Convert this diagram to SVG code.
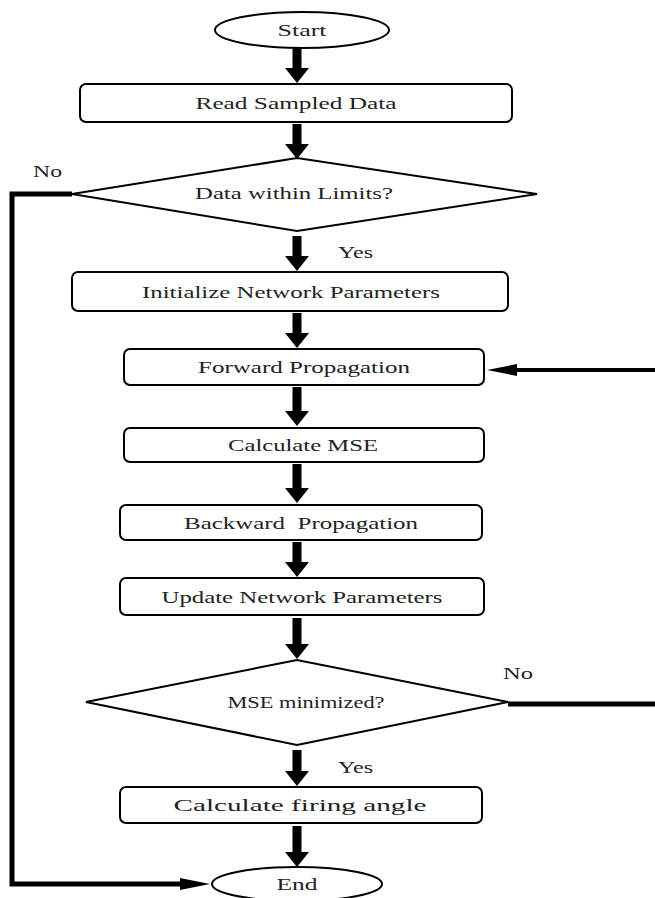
<svg xmlns="http://www.w3.org/2000/svg" width="655" height="898" viewBox="0 0 655 898">
<style>
.box{fill:#fff;stroke:#000;stroke-width:2}
.t{font-family:"Liberation Serif","Times New Roman",serif;font-size:17px;fill:#222;text-anchor:middle;white-space:pre}
.lbl{font-family:"Liberation Serif","Times New Roman",serif;font-size:17px;fill:#222}
.fat{stroke:#000;stroke-width:9;fill:none}
.loop{stroke:#000;stroke-width:5;fill:none}
</style>
<defs>
<marker id="big" markerUnits="userSpaceOnUse" markerWidth="26" markerHeight="16" refX="0" refY="12" viewBox="0 0 26 16" orient="auto" overflow="visible">
<path d="M0,0 L0,24 L15,12 Z" fill="#000"/>
</marker>
<marker id="thin" markerUnits="userSpaceOnUse" markerWidth="32" markerHeight="12" refX="0" refY="6" viewBox="0 0 32 12" orient="auto" overflow="visible">
<path d="M0,0 L30,6 L0,12 Z" fill="#000"/>
</marker>
</defs>

<g id="connectors">
<path class="fat" d="M297,48 V68" marker-end="url(#big)"/>
<path class="fat" d="M297,124 V144" marker-end="url(#big)"/>
<path class="fat" d="M297,236 V256" marker-end="url(#big)"/>
<path class="fat" d="M297,313 V333" marker-end="url(#big)"/>
<path class="fat" d="M297,387 V411" marker-end="url(#big)"/>
<path class="fat" d="M297,464 V488" marker-end="url(#big)"/>
<path class="fat" d="M297,542 V562" marker-end="url(#big)"/>
<path class="fat" d="M297,618 V644" marker-end="url(#big)"/>
<path class="fat" d="M297,750 V771" marker-end="url(#big)"/>
<path class="fat" d="M297,826 V852" marker-end="url(#big)"/>
<path class="loop" d="M72,194 H12 V884 H180" marker-end="url(#thin)"/>
<path class="loop" d="M508,704 H655"/>
<path d="M655,370 H517" stroke="#000" stroke-width="4" fill="none" marker-end="url(#thin)"/>
<text class="lbl" x="33" y="177" textLength="29" lengthAdjust="spacingAndGlyphs">No</text>
<text class="lbl" x="338" y="258" textLength="35" lengthAdjust="spacingAndGlyphs">Yes</text>
<text class="lbl" x="503" y="679" textLength="30" lengthAdjust="spacingAndGlyphs">No</text>
<text class="lbl" x="338" y="773" textLength="35" lengthAdjust="spacingAndGlyphs">Yes</text>
</g>

<g id="start">
<ellipse class="box" cx="302" cy="30" rx="87" ry="18"/>
<text class="t" x="302" y="36" textLength="49" lengthAdjust="spacingAndGlyphs">Start</text>
</g>
<g id="read">
<rect class="box" x="80" y="84" width="432" height="38" rx="6"/>
<text class="t" x="296" y="109" textLength="201" lengthAdjust="spacingAndGlyphs">Read Sampled Data</text>
</g>
<g id="check1">
<polygon class="box" points="72,194 297,158 537,194 297,231"/>
<text class="t" x="294" y="199" textLength="198" lengthAdjust="spacingAndGlyphs">Data within Limits?</text>
</g>
<g id="init">
<rect class="box" x="72" y="272" width="436" height="39" rx="6"/>
<text class="t" x="291" y="298" textLength="298" lengthAdjust="spacingAndGlyphs">Initialize Network Parameters</text>
</g>
<g id="forward">
<rect class="box" x="124" y="349" width="360" height="36" rx="6"/>
<text class="t" x="304" y="373" textLength="212" lengthAdjust="spacingAndGlyphs">Forward Propagation</text>
</g>
<g id="mse">
<rect class="box" x="124" y="428" width="360" height="34" rx="6"/>
<text class="t" x="303" y="451" textLength="150" lengthAdjust="spacingAndGlyphs">Calculate MSE</text>
</g>
<g id="backward">
<rect class="box" x="120" y="505" width="362" height="35" rx="6"/>
<text class="t" x="301" y="529" textLength="234" lengthAdjust="spacingAndGlyphs">Backward  Propagation</text>
</g>
<g id="update">
<rect class="box" x="120" y="578" width="364" height="37" rx="6"/>
<text class="t" x="302" y="603" textLength="281" lengthAdjust="spacingAndGlyphs">Update Network Parameters</text>
</g>
<g id="check2">
<polygon class="box" points="86,702 297,660 508,702 297,745"/>
<text class="t" x="306" y="708" textLength="157" lengthAdjust="spacingAndGlyphs">MSE minimized?</text>
</g>
<g id="firing">
<rect class="box" x="120" y="787" width="362" height="36" rx="6"/>
<text class="t" x="300" y="811" textLength="253" lengthAdjust="spacingAndGlyphs">Calculate firing angle</text>
</g>
<g id="end">
<ellipse class="box" cx="297" cy="884" rx="85" ry="17"/>
<text class="t" x="297" y="890" textLength="41" lengthAdjust="spacingAndGlyphs">End</text>
</g>
</svg>
